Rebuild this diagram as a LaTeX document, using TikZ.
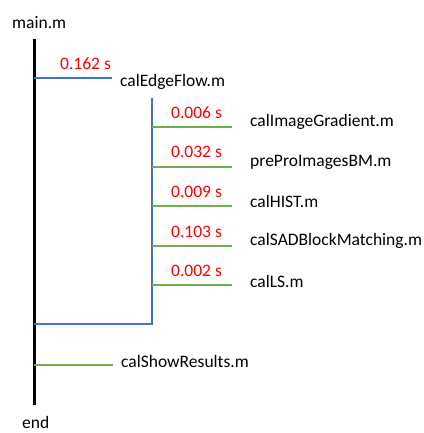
\documentclass[tikz,border=0pt]{standalone}
\usepackage{fontspec}
\setmainfont{Carlito}
\usepackage{tikz}

\definecolor{callblue}{RGB}{68,114,196}
\definecolor{callgreen}{RGB}{112,173,71}

\tikzset{
  fname/.style={anchor=west,inner sep=0pt,font=\fontsize{17.5}{20}\selectfont},
  ftime/.style={fname,text=red},
  spine/.style={black,line width=3pt},
  bluecall/.style={callblue,line width=1.5pt},
  greencall/.style={callgreen,line width=1.5pt}
}

\begin{document}
\begin{tikzpicture}[x=1pt,y=-1pt]
  \useasboundingbox (0,0) rectangle (423,433);

  \node[fname] (main) at (12,23)  {main.m};
  \node[fname] (end)  at (22,422) {end};
  \coordinate (top)    at (34,39);
  \coordinate (bottom) at (34,405);
  \draw[spine] (top) -- (bottom);

  \coordinate (ef0) at (34,78);
  \coordinate (ef1) at (112,78);
  \draw[bluecall] (ef0) -- (ef1);
  \node[ftime] (t0)  at (60,64)  {0.162 s};
  \node[fname] (ef)  at (120,82) {calEdgeFlow.m};

  \coordinate (sub0) at (152,98);
  \coordinate (sub1) at (152,324);
  \coordinate (back) at (34,324);
  \draw[bluecall] (sub0) -- (sub1) -- (back);

  \coordinate (g1a) at (152,127); \coordinate (g1b) at (232,127);
  \coordinate (g2a) at (152,167); \coordinate (g2b) at (232,167);
  \coordinate (g3a) at (152,206); \coordinate (g3b) at (232,206);
  \coordinate (g4a) at (152,246); \coordinate (g4b) at (232,246);
  \coordinate (g5a) at (152,285); \coordinate (g5b) at (232,285);
  \draw[greencall] (g1a) -- (g1b);
  \draw[greencall] (g2a) -- (g2b);
  \draw[greencall] (g3a) -- (g3b);
  \draw[greencall] (g4a) -- (g4b);
  \draw[greencall] (g5a) -- (g5b);

  \node[ftime] (t1) at (171,113) {0.006 s};
  \node[ftime] (t2) at (171,152) {0.032 s};
  \node[ftime] (t3) at (171,192) {0.009 s};
  \node[ftime] (t4) at (171,232) {0.103 s};
  \node[ftime] (t5) at (171,271) {0.002 s};

  \node[fname] (grad) at (250,122) {calImageGradient.m};
  \node[fname] (prep) at (250,162) {preProImagesBM.m};
  \node[fname] (hist) at (250,201) {calHIST.m};
  \node[fname] (sad)  at (250,241) {calSADBlockMatching.m};
  \node[fname] (ls)   at (250,281) {calLS.m};

  \coordinate (sr0) at (34,365);
  \coordinate (sr1) at (113,365);
  \draw[greencall] (sr0) -- (sr1);
  \node[fname] (show) at (121,361) {calShowResults.m};
\end{tikzpicture}
\end{document}
